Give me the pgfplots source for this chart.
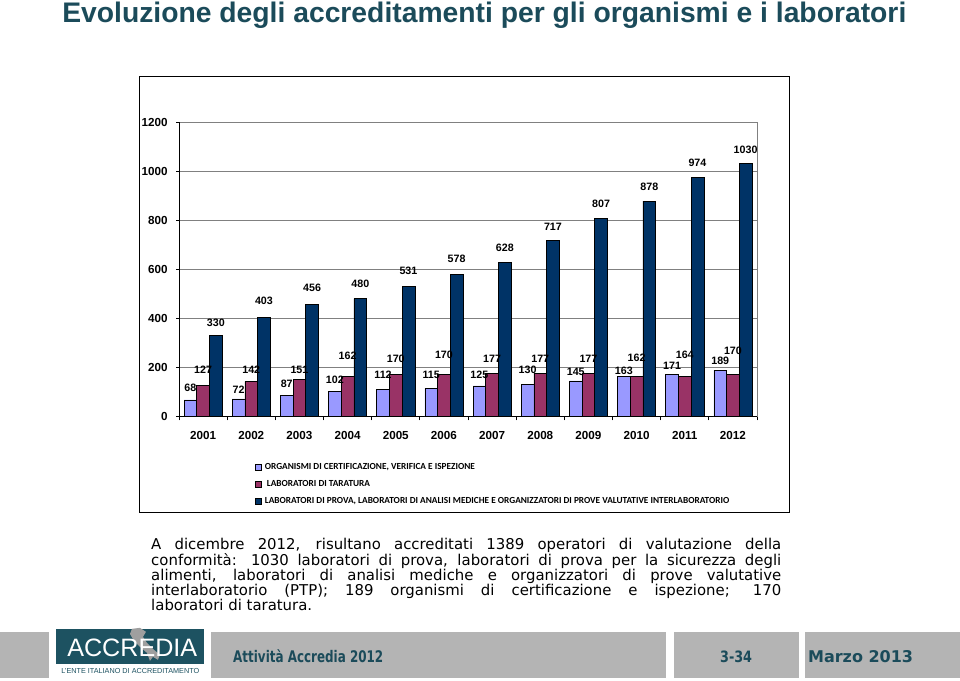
\documentclass[border=0pt]{standalone}
\usepackage{pgfplots}
\pgfplotsset{compat=1.18}
\usepackage{pgfplotstable}
\usepackage{fontspec}
\setmainfont{Liberation Sans}
\newfontfamily\dejavu{DejaVu Sans}
\newfontfamily\carlito{Carlito}
\definecolor{cA}{HTML}{9999FF}
\definecolor{cB}{HTML}{993366}
\definecolor{cC}{HTML}{003366}
\definecolor{accteal}{HTML}{1B4B5A}
\definecolor{logoteal}{HTML}{1D5261}
\definecolor{footgray}{HTML}{B4B4B4}

\pgfplotstableread{
x y dy
0 68 2.6
1 72 0.4
2 87 1.6
3 102 2.2
4 112 3.6
5 115 3.0
6 125 1.8
7 130 4.0
8 145 0.4
9 163 -2.4
10 171 -0.3
11 189 0.1
}\dataA
\pgfplotstableread{
x y dy
0 127 4.7
1 142 2.6
2 151 0.4
3 162 8.9
4 170 5.4
5 170 8.2
6 177 4.0
7 177 4.0
8 177 4.0
9 162 7.3
10 164 9.3
11 170 11.1
}\dataB
\pgfplotstableread{
x y dy
0 330 2.9
1 403 5.4
2 456 5.4
3 480 4.7
4 531 5.0
5 578 4.7
6 628 4.4
7 717 3.8
8 807 4.4
9 878 4.0
10 974 4.4
11 1030 3.8
}\dataC

\begin{document}
\begin{tikzpicture}
\useasboundingbox (0,0) rectangle (24,17);
\fill[white] (0,0) rectangle (24,17);
\begin{scope}[yshift=17cm, x=0.025cm, y=-0.025cm]
  % title
  \node[anchor=base west, inner sep=0, text=accteal] at (62,23)
    {\resizebox{21.1cm}{!}{\bfseries Evoluzione degli accreditamenti per gli organismi e i laboratori}};
  % chart frame
  \draw[black, line width=0.6pt] (139,76) rectangle (790,513);
  % body text
  \node[anchor=base west, inner sep=0] at (151,550) {\parbox[t]{15.75cm}{\dejavu\fontsize{10.6}{10.8}\selectfont
    \makebox[15.75cm][s]{A dicembre 2012, risultano accreditati 1389 operatori di valutazione della}\\
    \makebox[15.75cm][s]{conformità: 1030 laboratori di prova, laboratori di prova per la sicurezza degli}\\
    \makebox[15.75cm][s]{alimenti, laboratori di analisi mediche e organizzatori di prove valutative}\\
    \makebox[15.75cm][s]{interlaboratorio (PTP); 189 organismi di certificazione e ispezione; 170}\\
    laboratori di taratura.}};
  % footer
  \fill[footgray] (0,632) rectangle (49,678);
  \fill[footgray] (211,632) rectangle (666,678);
  \fill[footgray] (674,632) rectangle (799,678);
  \fill[footgray] (805,632) rectangle (960,678);
  \fill[logoteal] (56,629) rectangle (204,664);
  \fill[white] (56,664) rectangle (204,677);
  \fill[gray!75] (132,629) -- (140,628) -- (146,632) -- (143,637) -- (147,643) -- (154,650) -- (160,655)
     -- (158,660) -- (153,657) -- (150,661) -- (147,653) -- (140,647) -- (134,641) -- (130,634) -- cycle;
  \node[anchor=base west, inner sep=0, text=white] at (67,657) {\resizebox{3.25cm}{!}{ACCREDIA}};
  \node[anchor=base west, inner sep=0, text=logoteal] at (61,674) {\resizebox{3.45cm}{!}{L'ENTE ITALIANO DI ACCREDITAMENTO}};
  \node[anchor=base west, inner sep=0, text=accteal] at (233,663) {\resizebox{3.75cm}{0.32cm}{\dejavu\bfseries Attività Accredia 2012}};
  \node[anchor=base west, inner sep=0, text=accteal] at (720,663) {\resizebox{0.8cm}{0.29cm}{\dejavu\bfseries 3-34}};
  \node[anchor=base west, inner sep=0, text=accteal] at (808,663) {\resizebox{2.625cm}{0.30cm}{\dejavu\bfseries Marzo 2013}};
\end{scope}

\begin{axis}[
  at={(4.475cm,6.5875cm)}, anchor=south west,
  scale only axis, width=14.45cm, height=7.3625cm,
  xmin=-0.5, xmax=11.5, ymin=0, ymax=1200,
  ybar=0pt, bar width=0.3175cm,
  axis lines=left, axis line style={-, black, line width=0.6pt},
  ytick={0,200,...,1200},
  ymajorgrids, grid style={gray, line width=0.5pt},
  xtick={0,...,11},
  xticklabels={2001,2002,2003,2004,2005,2006,2007,2008,2009,2010,2011,2012},
  minor xtick={-0.5,0.5,...,11.5},
  tick align=outside,
  major x tick style={draw=none},
  minor x tick style={black, line width=0.5pt},
  y tick style={black, line width=0.5pt},
  minor tick length=2.8pt, major tick length=2.1pt,
  /pgf/number format/assume math mode=true,
  /pgf/number format/1000 sep={},
  tick label style={font=\bfseries\fontsize{8.3}{9}\selectfont},
  yticklabel style={xshift=-2.5pt},
  xticklabel style={yshift=-5pt},
  nodes near coords,
  visualization depends on={\thisrow{dy} \as \dy},
  every node near coord/.append style={font=\bfseries\fontsize{7.6}{8}\selectfont, yshift=\dy pt, black},
  legend cell align=left,
  legend style={at={(rel axis cs:0.1315,-0.148)}, anchor=north west, draw=none, fill=none,
    inner sep=0pt, row sep=1.9pt,
    font=\carlito\bfseries\fontsize{6.6}{7}\selectfont,
    nodes={text height=4.5pt, text depth=1.2pt, inner sep=2.2pt}},
  clip=false,
]
\addplot[fill=cA, draw=black, line width=0.4pt,
  legend image code/.code={\draw[fill=cA, draw=black, line width=0.4pt] (0pt,-2.1pt) rectangle (4.2pt,2.1pt);}]
  table[x=x, y=y] {\dataA};
\addlegendentry{ORGANISMI DI CERTIFICAZIONE, VERIFICA E ISPEZIONE}
\addplot[fill=cB, draw=black, line width=0.4pt,
  legend image code/.code={\draw[fill=cB, draw=black, line width=0.4pt] (0pt,-2.1pt) rectangle (4.2pt,2.1pt);}]
  table[x=x, y=y] {\dataB};
\addlegendentry{\ LABORATORI DI TARATURA}
\addplot[fill=cC, draw=black, line width=0.4pt,
  legend image code/.code={\draw[fill=cC, draw=black, line width=0.4pt] (0pt,-2.1pt) rectangle (4.2pt,2.1pt);}]
  table[x=x, y=y] {\dataC};
\addlegendentry{LABORATORI DI PROVA, LABORATORI DI ANALISI MEDICHE E ORGANIZZATORI DI PROVE VALUTATIVE INTERLABORATORIO}
\draw[gray, line width=0.5pt] (rel axis cs:1,0) -- (rel axis cs:1,1);
\end{axis}
\end{tikzpicture}
\end{document}
